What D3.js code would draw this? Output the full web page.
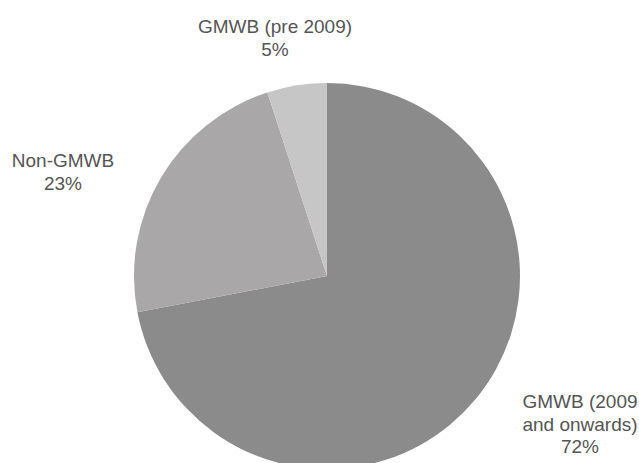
<!DOCTYPE html>
<html>
<head>
<meta charset="utf-8">
<script src="https://cdn.jsdelivr.net/npm/d3@7"></script>
<style>
  html, body { margin: 0; padding: 0; background: #fff; }
  svg { display: block; }
</style>
</head>
<body>
<div id="chart"></div>
<script>
const width = 639;
const height = 463;

// share of business by product type
const categories = ["GMWB (2009 and onwards)", "Non-GMWB", "GMWB (pre 2009)"];
const labelLines = [["GMWB (2009", "and onwards)"], ["Non-GMWB"], ["GMWB (pre 2009)"]];
const shares = [72, 23, 5];
const sliceColors = ["#8b8b8b", "#a9a7a8", "#c6c6c6"];

// where each label block is centred (first line baseline)
const labelAnchors = [[580, 408], [63, 167], [275, 33]];

const cx = 327, cy = 276, radius = 193;

const svg = d3.select("#chart").append("svg")
    .attr("width", width)
    .attr("height", height);

const slices = categories.map((c, i) => ({ name: c, value: shares[i], lines: labelLines[i], color: sliceColors[i], anchor: labelAnchors[i] }));

const pie = d3.pie()
    .sort(null)
    .value(d => d.value);

const arc = d3.arc()
    .innerRadius(0)
    .outerRadius(radius);

const g = svg.append("g")
    .attr("transform", `translate(${cx},${cy})`);

g.selectAll("path")
    .data(pie(slices))
    .join("path")
    .attr("d", arc)
    .attr("fill", d => d.data.color);

const labels = svg.append("g")
    .attr("font-family", "'Liberation Sans', Arial, sans-serif")
    .attr("font-size", 19)
    .attr("fill", "#555")
    .attr("text-anchor", "middle");

slices.forEach(d => {
    const t = labels.append("text")
        .attr("x", d.anchor[0])
        .attr("y", d.anchor[1]);
    d.lines.concat([d.value + "%"]).forEach((line, i) => {
        t.append("tspan")
            .attr("x", d.anchor[0])
            .attr("dy", i === 0 ? 0 : 22.5)
            .text(line);
    });
});
</script>
</body>
</html>
